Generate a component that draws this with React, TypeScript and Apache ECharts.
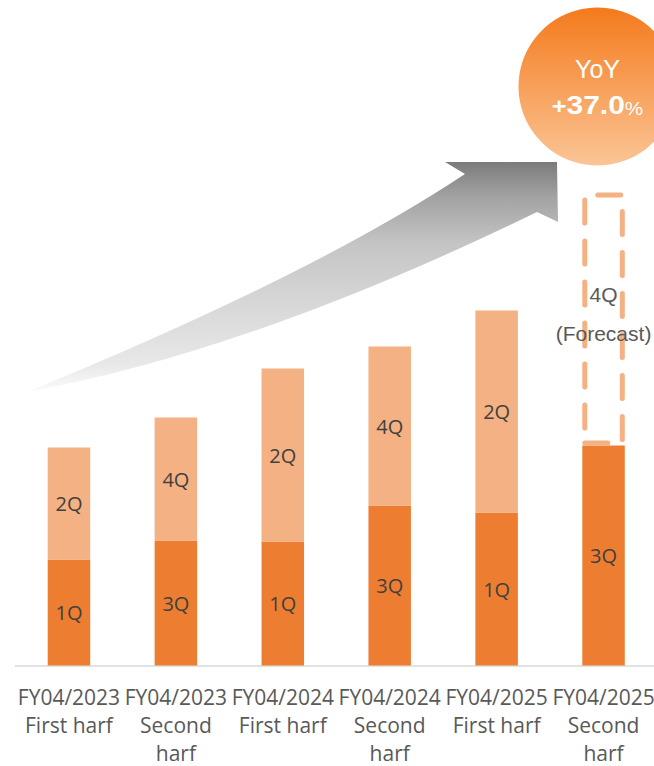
import React, { useEffect, useRef } from 'react';
import * as echarts from 'echarts';

// ---- data ----
const categories = [
  'FY04/2023\nFirst harf',
  'FY04/2023\nSecond\nharf',
  'FY04/2024\nFirst harf',
  'FY04/2024\nSecond\nharf',
  'FY04/2025\nFirst harf',
  'FY04/2025\nSecond\nharf',
];
const lowerValues = [106, 125, 124, 160, 153, 220];
const lowerLabels = ['1Q', '3Q', '1Q', '3Q', '1Q', '3Q'];
const upperValues: (number | null)[] = [112, 123, 173, 159, 202, null];
const upperLabels = ['2Q', '4Q', '2Q', '4Q', '2Q', ''];
const forecastValues: (number | null)[] = [null, null, null, null, null, 253];
const forecastLabelLines = ['4Q', '(Forecast)'];
const yoyTitle = 'YoY';
const yoySign = '+';
const yoyValue = '37.0';
const yoyUnit = '%';

const ARROW_PATH =
  'M27 392 Q311 276 465 174 L445 162 L557 162 L558 222 L537 212 Q252 351 27 392 Z';

let registered = false;
function ensureShape() {
  if (registered) return;
  echarts.graphic.registerShape('growthArrow', echarts.graphic.extendPath(ARROW_PATH, {}) as any);
  registered = true;
}

export default function App() {
  const ref = useRef<HTMLDivElement>(null);

  useEffect(() => {
    if (!ref.current) return;
    ensureShape();
    const chart = echarts.init(ref.current, null, { renderer: 'svg' });

    const dark = '#ED7D31';
    const light = '#F4B183';

    const option: any = {
      animation: false,
      grid: { left: 15.5, right: -3, top: 65.5, bottom: 100.5, outerBoundsMode: 'none', containLabel: false },
      xAxis: {
        type: 'category',
        data: categories,
        axisTick: { show: false },
        axisLine: { lineStyle: { color: '#D9D9D9', width: 1.5 } },
        axisLabel: {
          interval: 0,
          color: '#595959',
          fontFamily: 'Open Sans',
          fontSize: 21,
          lineHeight: 28,
          margin: 17,
        },
      },
      yAxis: {
        type: 'value',
        min: 0,
        max: 600,
        show: false,
        splitLine: { show: false },
      },
      series: [
        {
          type: 'bar',
          stack: 'total',
          barWidth: 42.5,
          data: lowerValues,
          itemStyle: { color: dark },
          label: {
            show: true,
            position: 'inside',
            formatter: (p: any) => lowerLabels[p.dataIndex],
            color: '#404040',
            fontFamily: 'Open Sans',
            fontSize: 20,
          },
        },
        {
          type: 'bar',
          stack: 'total',
          barWidth: 42.5,
          data: upperValues.map((v) => (v == null ? '-' : v)),
          itemStyle: { color: light },
          label: {
            show: true,
            position: 'inside',
            formatter: (p: any) => upperLabels[p.dataIndex],
            color: '#404040',
            fontFamily: 'Open Sans',
            fontSize: 20,
          },
        },
        {
          type: 'bar',
          stack: 'total',
          barWidth: 42.5,
          data: forecastValues.map((v) => (v == null ? '-' : v)),
          itemStyle: {
            color: 'rgba(0,0,0,0)',
            borderColor: light,
            borderWidth: 5,
            borderType: [23, 18],
            borderCap: 'round',
          },
          label: {
            show: true,
            position: 'inside',
            offset: [0, -5],
            formatter: () => forecastLabelLines.map((t, i) => `{l${i}|${t}}`).join('\n'),
            rich: {
              l0: { color: '#595959', fontFamily: 'Liberation Sans', fontSize: 21, lineHeight: 39 },
              l1: { color: '#595959', fontFamily: 'Liberation Sans', fontSize: 21, lineHeight: 39 },
            },
          },
        },
      ],
      graphic: [
        {
          type: 'growthArrow',
          x: 0,
          y: 0,
          silent: true,
          style: {
            fill: new echarts.graphic.LinearGradient(0, 0, 0, 1, [
              { offset: 0, color: '#7B7B7B' },
              { offset: 0.15, color: '#A2A2A2' },
              { offset: 0.35, color: '#C4C4C4' },
              { offset: 0.6, color: '#D6D6D6' },
              { offset: 0.88, color: '#E8E8E8' },
              { offset: 1, color: '#FBFBFB' },
            ]),
          },
        },
        {
          type: 'circle',
          silent: true,
          shape: { cx: 597.5, cy: 86.5, r: 79 },
          style: {
            fill: new echarts.graphic.LinearGradient(0, 0, 0, 1, [
              { offset: 0, color: '#F47A1C' },
              { offset: 1, color: '#FBC596' },
            ]),
          },
        },
        {
          type: 'text',
          x: 597.5,
          y: 68.5,
          silent: true,
          style: {
            text: yoyTitle,
            fill: '#FFFFFF',
            fontSize: 25,
            fontFamily: 'Liberation Sans',
            align: 'center',
            textAlign: 'center',
            verticalAlign: 'middle',
            textVerticalAlign: 'middle',
          },
        },
        {
          type: 'text',
          x: 597.5,
          y: 105,
          scaleX: 1.15,
          silent: true,
          style: {
            text: `{p|${yoySign}}{v|${yoyValue}}{u|${yoyUnit}}`,
            fill: '#FFFFFF',
            align: 'center',
            textAlign: 'center',
            verticalAlign: 'middle',
            textVerticalAlign: 'middle',
            rich: {
              p: { fill: '#FFFFFF', fontSize: 22, fontWeight: 'bold', fontFamily: 'Liberation Sans', verticalAlign: 'bottom', lineHeight: 26 },
              v: { fill: '#FFFFFF', fontSize: 26, fontWeight: 'bold', fontFamily: 'Liberation Sans', verticalAlign: 'bottom', lineHeight: 26 },
              u: { fill: '#FFFFFF', fontSize: 18, fontFamily: 'Liberation Sans', verticalAlign: 'bottom', lineHeight: 26 },
            },
          },
        },
      ],
    };

    chart.setOption(option);
    return () => chart.dispose();
  }, []);

  return (
    <div
      ref={ref}
      style={{ position: 'fixed', left: 0, top: 0, width: 654, height: 766, background: '#FFFFFF' }}
    />
  );
}
